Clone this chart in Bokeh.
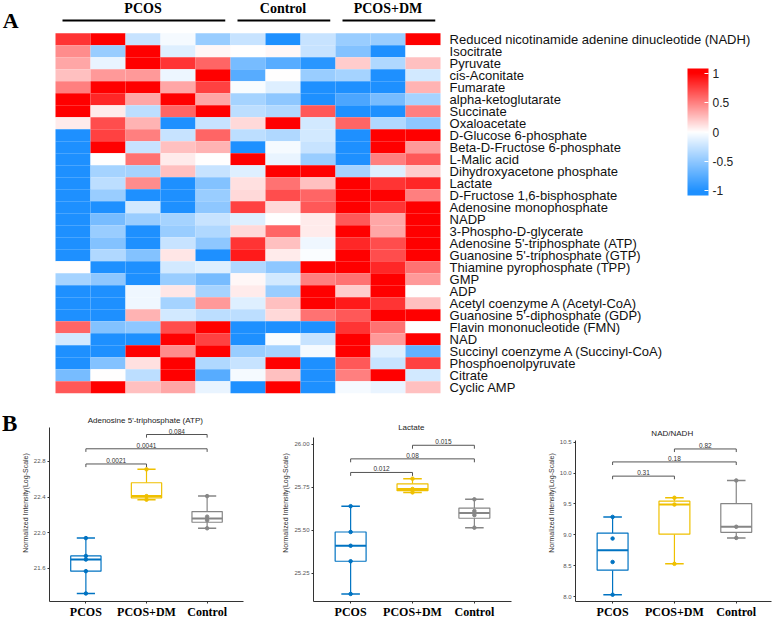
import numpy as np
from bokeh.plotting import figure
from bokeh.models import (Range1d, ColumnDataSource, LinearColorMapper, ColorBar,
                          FixedTicker, LabelSet, PrintfTickFormatter)
from bokeh.layouts import column, row
from bokeh.embed import file_html
from bokeh.resources import INLINE
from bokeh.core.properties import value

# ---------------- heatmap data ----------------
metabolites = [
    "Reduced nicotinamide adenine dinucleotide (NADH)", "Isocitrate", "Pyruvate",
    "cis-Aconitate", "Fumarate", "alpha-ketoglutarate", "Succinate", "Oxaloacetate",
    "D-Glucose 6-phosphate", "Beta-D-Fructose 6-phosphate", "L-Malic acid",
    "Dihydroxyacetone phosphate", "Lactate", "D-Fructose 1,6-bisphosphate",
    "Adenosine monophosphate", "NADP", "3-Phospho-D-glycerate",
    "Adenosine 5'-triphosphate (ATP)", "Guanosine 5'-triphosphate (GTP)",
    "Thiamine pyrophosphate (TPP)", "GMP", "ADP", "Acetyl coenzyme A (Acetyl-CoA)",
    "Guanosine 5'-diphosphate (GDP)", "Flavin mononucleotide (FMN)", "NAD",
    "Succinyl coenzyme A (Succinyl-CoA)", "Phosphoenolpyruvate", "Citrate", "Cyclic AMP",
]
groups = ["PCOS", "Control", "PCOS+DM"]
group_sizes = [5, 3, 3]

pcos_z = [
    [0.8, 1, -0.25, -0.05, -0.45], [0.45, -0.45, 1, -0.15, 0.03], [0.35, -0.1, 1, 0.8, 0.6],
    [0.25, 0.4, 0.4, -0.08, 1], [0.5, 1, 1, 0.35, 0.75], [1, 0.85, 0.35, 1, 0.35],
    [1, 0.08, -0.3, 0.6, 1], [0.08, 0.7, 0.3, -1, -0.25], [-1, 0.75, 0.5, -0.25, 0.6],
    [-1, 1, -0.25, 0.25, 0.3], [-1, 0, 0.55, 0.08, 0], [-1, -0.4, -0.4, 0.25, -0.25],
    [-1, -0.3, 0.45, -1, -0.55], [-1, -0.45, -1, -1, -0.45], [-1, -1, -0.2, -1, -0.5],
    [-1, -0.6, -0.45, -0.4, -0.25], [-1, -0.45, -1, -0.45, -0.35], [-1, -0.55, -1, -0.25, -0.5],
    [-1, -0.35, -0.55, 0.1, -1], [0, -1, -1, -0.2, -0.15], [-0.4, -0.5, -1, -0.45, -0.6],
    [-1, -1, -0.07, 0.1, -0.4], [-1, -1, -0.07, -0.4, 0.4], [-1, -1, 0.3, -0.2, -0.3],
    [0.6, -0.55, -0.5, 0.7, 1], [-0.2, -1, -1, 1, 0.75], [-1, -1, 1, 0.45, 1],
    [-1, -0.55, 0.12, 1, -0.35], [-0.6, 0, -0.3, 1, -0.75], [0.65, 1, 0.25, 0.35, -0.1],
]
control_z = [
    [-0.25, -1, -0.25], [0, 0.03, -0.25], [-0.6, -0.75, -0.95], [-0.75, 0, -0.45],
    [-0.03, -0.15, -1], [-0.4, -0.5, -1], [-0.3, -0.35, 0.65], [0.15, 1, -0.2],
    [-0.3, -0.35, -0.2], [-1, -0.05, -0.25], [1, -0.1, -0.45], [-0.15, 1, 1],
    [0.12, 0.55, 0.25], [0.15, 0.7, 0.6], [0.75, 0.15, 0.65], [-0.15, 0, 0.08],
    [0.15, 0.6, 0.08], [0.8, 0.25, -0.07], [0.9, 0.08, -0.02], [-0.35, -0.5, 1],
    [0.03, -0.2, 0.5], [0.08, -0.45, 1], [-0.15, 0.25, 1], [-0.3, 0.15, 0.55],
    [-1, -1, -1], [-1, -0.03, -0.25], [-0.45, -0.4, -0.05], [-0.25, 1, -1],
    [-0.05, 0.25, -1], [-1, 1, -1],
]
dm_z = [
    [-0.45, -0.45, 1], [-0.55, -1, 0], [0.2, -0.35, 0.25], [-0.4, -1, -0.2],
    [-1, -1, 0.3], [-0.8, -0.6, -0.4], [-1, -1, 0.5], [0.6, -0.35, -0.5],
    [-1, 1, 1], [-1, 1, 0.4], [-1, 0.5, 0.65], [-0.4, -0.15, 0.2],
    [1, 0.8, 0.85], [1, 1, 0.5], [1, 0.8, 1], [0.65, 0.35, 1],
    [1, 0.35, 1], [0.85, 0.7, 1], [1, 0.7, 1], [1, 0.85, 0.55],
    [0.55, 1, 0.4], [0.2, 1, 0], [0.9, 0.8, 0.25], [0.65, 1, 1],
    [0.8, 0.55, 0], [1, 0.4, 1], [1, -0.15, -0.7], [0.65, -0.25, 0.75],
    [0.5, 1, -0.2], [-0.05, -0.1, 0.25],
]
colorbar_ticks = [-1, -0.5, 0, 0.5, 1]

# ---------------- boxplot data ----------------
box_groups = ["PCOS", "PCOS+DM", "Control"]
box_colors = ["#0073C2", "#EFC000", "#868686"]

atp_pcos = [21.32, 21.57, 21.70, 21.74, 21.94]
atp_dm = [22.37, 22.41, 22.71]
atp_ctrl = [22.05, 22.14, 22.18, 22.41]
atp_p = ["0.0021", "0.0041", "0.084"]

lac_pcos = [25.13, 25.32, 25.41, 25.49, 25.64]
lac_dm = [25.72, 25.74, 25.80]
lac_ctrl = [25.515, 25.588, 25.612, 25.68]
lac_p = ["0.012", "0.08", "0.015"]

nad_pcos = [8.03, 8.56, 8.94, 9.29]
nad_dm = [8.53, 9.49, 9.60]
nad_ctrl = [8.95, 9.13, 9.88]
nad_p = ["0.31", "0.18", "0.82"]

pairs = [(1, 2), (1, 3), (2, 3)]

SANS = "Liberation Sans"
SERIF = "Liberation Serif"

# ---------------- heatmap figure ----------------
LOW, HIGH = -1.08, 1.08
def ramp(v):
    v = max(-1.0, min(1.0, v))
    blue = np.array([30, 144, 255]); white = np.array([255, 255, 255]); red = np.array([255, 0, 0])
    c = white + (blue - white) * (-v) if v < 0 else white + (red - white) * v
    c = np.round(c).astype(int)
    return "#%02x%02x%02x" % tuple(c)
palette = [ramp(LOW + (i + 0.5) / 256 * (HIGH - LOW)) for i in range(256)]
mapper = LinearColorMapper(palette=palette, low=LOW, high=HIGH)

xs, ys, vals = [], [], []
for i in range(len(metabolites)):
    rowvals = list(pcos_z[i]) + list(control_z[i]) + list(dm_z[i])
    for j, v in enumerate(rowvals):
        xs.append(j + 0.5); ys.append(i + 0.5); vals.append(v)
hsrc = ColumnDataSource(dict(x=xs, y=ys, v=vals))

HM_H = 404
ncol = sum(group_sizes)
hm = figure(width=778, height=HM_H, x_range=Range1d(-1.5714, 20.657),
            y_range=Range1d(30.94, -2.725), output_backend="svg",
            toolbar_location=None, min_border=0)
hm.axis.visible = False
hm.grid.visible = False
hm.outline_line_color = None
hm.rect(x="x", y="y", width=1, height=1, source=hsrc,
        fill_color={"field": "v", "transform": mapper}, line_color=None)

hm.text(x=[ncol + 0.26] * len(metabolites), y=[i + 0.5 for i in range(len(metabolites))],
        text=metabolites, text_baseline="middle", text_align="left",
        text_font=value(SANS), text_font_size="13px", text_color="#111111")

starts = np.cumsum([0] + group_sizes[:-1])
ends = np.cumsum(group_sizes)
hm.segment(x0=[s + 0.2 for s in starts], x1=[e - 0.15 for e in ends],
           y0=[-1.06] * 3, y1=[-1.06] * 3, line_color="black", line_width=2)
hm.text(x=[(s + e) / 2 for s, e in zip(starts, ends)], y=[-2.06] * 3, text=groups,
        text_align="center", text_baseline="middle", text_font=value(SERIF),
        text_font_style="bold", text_font_size="14px", text_color="black")
hm.text(x=[-1.51], y=[-1.1], text=["A"], text_align="left", text_baseline="middle",
        text_font=value(SERIF), text_font_style="bold", text_font_size="22px", text_color="black")

cb = ColorBar(color_mapper=mapper, location=(687, HM_H - 195), width=21, height=127, padding=0,
              ticker=FixedTicker(ticks=colorbar_ticks),
              major_label_overrides={-1: "-1", -0.5: "-0.5", 0: "0", 0.5: "0.5", 1: "1"},
              major_label_text_font=SANS, major_label_text_font_size="12px",
              major_label_text_color="#222222", label_standoff=4,
              major_tick_line_color="white", major_tick_in=4, major_tick_out=0,
              bar_line_color=None, border_line_color=None, background_fill_alpha=0)
hm.add_layout(cb)

# ---------------- boxplot figures ----------------
BOX_H = 217
BB = 19  # bottom border shared by the row

def box_panel(title, title_y, data, pvals, yr, axis_top, ticks, fmt, bracket_y, drop,
              width, bl, br, xr_end):
    p = figure(width=width, height=BOX_H, x_range=Range1d(0.4, xr_end), y_range=Range1d(*yr),
               output_backend="svg", toolbar_location=None, title=None,
               min_border_left=bl, min_border_right=br, min_border_top=0, min_border_bottom=BB)
    p.grid.visible = False
    p.outline_line_color = None
    p.text(x=[(0.4 + xr_end) / 2 - 0.02], y=[title_y], text=[title], text_align="center",
           text_baseline="middle", text_font=value(SANS), text_font_size="8px",
           text_color="#222222")

    xpos = [1, 2, 3]
    q1 = [np.percentile(d, 25) for d in data]
    med = [np.percentile(d, 50) for d in data]
    q3 = [np.percentile(d, 75) for d in data]
    lo = [min(d) for d in data]
    hi = [max(d) for d in data]
    src = ColumnDataSource(dict(x=xpos, q1=q1, med=med, q3=q3, lo=lo, hi=hi, c=box_colors,
                                cl=[x - 0.15 for x in xpos], cr=[x + 0.15 for x in xpos],
                                ml=[x - 0.25 for x in xpos], mr=[x + 0.25 for x in xpos]))
    p.segment(x0="x", x1="x", y0="q3", y1="hi", source=src, line_color="c", line_width=1.2)
    p.segment(x0="x", x1="x", y0="lo", y1="q1", source=src, line_color="c", line_width=1.2)
    p.segment(x0="cl", x1="cr", y0="hi", y1="hi", source=src, line_color="c", line_width=1.5)
    p.segment(x0="cl", x1="cr", y0="lo", y1="lo", source=src, line_color="c", line_width=1.5)
    p.vbar(x="x", width=0.5, bottom="q1", top="q3", source=src, fill_color="white",
           line_color="c", line_width=1.2)
    p.segment(x0="ml", x1="mr", y0="med", y1="med", source=src, line_color="c", line_width=2)
    px, py, pc = [], [], []
    for k, d in enumerate(data):
        for v in d:
            px.append(xpos[k]); py.append(v); pc.append(box_colors[k])
    p.scatter(px, py, size=3.5, color=pc)

    # significance brackets
    bx0, bx1, y0s, y1s, mx, my = [], [], [], [], [], []
    for (a, b), yb in zip(pairs, bracket_y):
        bx0 += [a, a, b]; bx1 += [b, a, b]
        y0s += [yb, yb, yb]; y1s += [yb, yb - drop, yb - drop]
        mx.append((a + b) / 2); my.append(yb)
    p.segment(x0=bx0, x1=bx1, y0=y0s, y1=y1s, line_color="#555555", line_width=1)
    lsrc = ColumnDataSource(dict(x=mx, y=my, t=pvals))
    p.add_layout(LabelSet(x="x", y="y", text="t", source=lsrc, text_align="center",
                          text_baseline="bottom", y_offset=1, text_font=value(SANS),
                          text_font_size="6.5px", text_color="#333333"))

    p.xaxis.ticker = FixedTicker(ticks=xpos)
    p.xaxis.major_label_overrides = {1: box_groups[0], 2: box_groups[1], 3: box_groups[2]}
    p.xaxis.major_label_text_font = SERIF
    p.xaxis.major_label_text_font_style = "bold"
    p.xaxis.major_label_text_font_size = "12px"
    p.xaxis.major_label_text_color = "black"
    p.xaxis.major_label_standoff = 1
    p.xaxis.major_tick_out = 2
    p.xaxis.major_tick_in = 0
    p.xaxis.minor_tick_line_color = None

    p.yaxis.bounds = (yr[0], axis_top)
    p.yaxis.ticker = FixedTicker(ticks=ticks)
    p.yaxis.formatter = PrintfTickFormatter(format=fmt)
    p.yaxis.major_label_text_font = SANS
    p.yaxis.major_label_text_font_size = "6px"
    p.yaxis.major_label_text_color = "#555555"
    p.yaxis.major_tick_out = 2
    p.yaxis.major_tick_in = 0
    p.yaxis.major_label_standoff = 2
    p.yaxis.minor_tick_line_color = None
    p.yaxis.axis_label = "Normalized Intensity(Log-Scale)"
    p.yaxis.axis_label_text_font = SANS
    p.yaxis.axis_label_text_font_size = "7px"
    p.yaxis.axis_label_text_font_style = "normal"
    p.yaxis.axis_label_text_color = "#333333"
    p.yaxis.axis_label_standoff = 2
    p.axis.axis_line_color = "#333333"
    p.axis.major_tick_line_color = "#333333"
    return p

# narrow strip holding the panel letter "B"
BW = 18
bfig = figure(width=BW, height=BOX_H, x_range=Range1d(0, BW), y_range=Range1d(BOX_H - BB, 0),
              output_backend="svg", toolbar_location=None, title=None,
              min_border_left=0, min_border_right=0, min_border_top=0, min_border_bottom=BB)
bfig.axis.visible = False
bfig.grid.visible = False
bfig.outline_line_color = None
bfig.text(x=[1.5], y=[19.5], text=["B"], text_align="left", text_baseline="middle",
          text_font=value(SERIF), text_font_style="bold", text_font_size="23px", text_color="black")

f1 = box_panel("Adenosine 5'-triphosphate (ATP)", 23.258, [atp_pcos, atp_dm, atp_ctrl], atp_p,
               (21.23, 23.436), 23.18, [21.6, 22.0, 22.4, 22.8], "%.1f",
               [22.77, 22.94, 23.10], 0.035, 270 - BW, 27, 27, 3.6)
f2 = box_panel("Lactate", 26.098, [lac_pcos, lac_dm, lac_ctrl], lac_p,
               (25.086, 26.231), 26.04, [25.25, 25.5, 25.75, 26.0], "%.2f",
               [25.836, 25.915, 25.994], 0.02, 260, 43, 19, 3.6)
f3 = box_panel("NAD/NADH", 10.643, [nad_pcos, nad_dm, nad_ctrl], nad_p,
               (7.92, 11.11), 10.53, [8.0, 8.5, 9.0, 9.5, 10.0, 10.5], "%.1f",
               [9.95, 10.18, 10.39], 0.05, 248, 45, 7, 3.57)

layout = column(hm, row(bfig, f1, f2, f3))
open("out.html", "w").write(file_html(layout, INLINE))
